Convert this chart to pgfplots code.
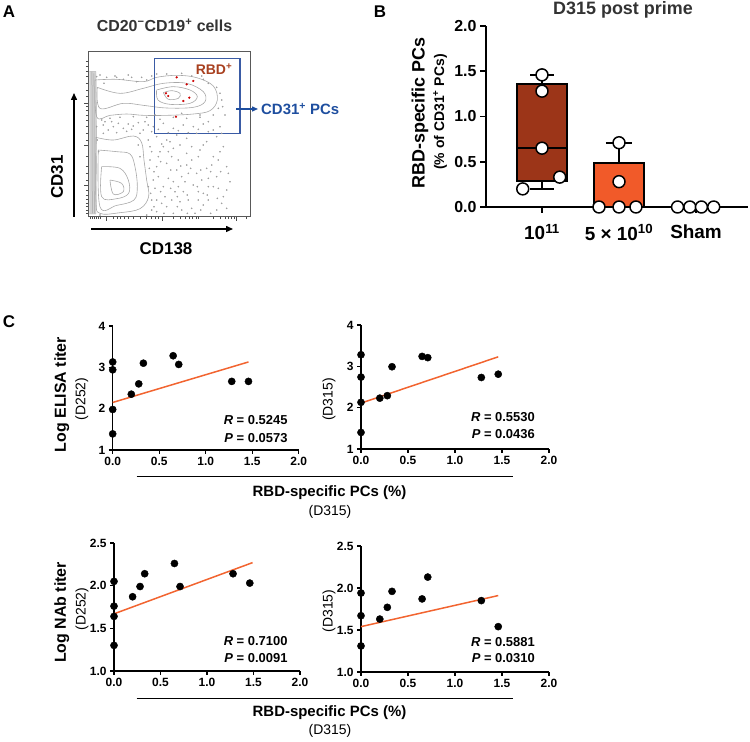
\documentclass[border=0pt]{standalone}
\usepackage{pgfplots}
\pgfplotsset{compat=1.18}
\usepgfplotslibrary{statistics}
\usetikzlibrary{arrows.meta}
\usepackage{fontspec}
\setmainfont{Liberation Sans}
\definecolor{boxA}{HTML}{9C3518}
\definecolor{boxB}{HTML}{F15A29}
\definecolor{regline}{HTML}{F26430}
\definecolor{gateblue}{HTML}{3A5BA5}
\definecolor{textblue}{HTML}{1E4E9F}
\definecolor{rbdred}{HTML}{A8401F}
\definecolor{titlegrey}{HTML}{333333}
\definecolor{flowgrey}{HTML}{A8A8A8}
\definecolor{dotgrey}{HTML}{A0A0A0}
\newcommand{\fs}[1]{\fontsize{#1}{#1}\selectfont}
\pgfplotsset{
  scat/.style={scale only axis, clip=false, axis lines*=left, anchor=south west,
    xmin=0, xmax=2, xtick={0,0.5,1,1.5,2}, tick align=outside, major tick length=4bp,
    axis line style={line width=1.3bp}, tick style={line width=1.3bp, black},
    ticklabel style={font=\fs{12}\bfseries},
    /pgf/number format/assume math mode=true,
    xticklabel style={/pgf/number format/fixed, /pgf/number format/fixed zerofill, /pgf/number format/precision=1}},
  dots/.style={only marks, mark=*, mark size=3.6, black},
  reg/.style={regline, line width=1.5bp, no marks},
}
\begin{document}
\begin{tikzpicture}
\useasboundingbox (0,0) rectangle (750bp,742bp);

% ---------------- Panel A ----------------
\begin{axis}[scale only axis, clip=false, at={(88.3bp,525.3bp)}, anchor=south west,
  width=161.7bp, height=165.7bp, xmin=265, xmax=750, ymin=-650, ymax=-153,
  axis line style={draw=gray!70!black, line width=0.8bp},
  xtick={318,487,710}, ytick={-555,-435,-310},
  minor xtick={272,278,284,290,296,302,340,352,362,372,385,400,420,440,455,465,475,520,540,555,568,578,588,596,640,660,675,685,695,702,740},
  minor ytick={-640,-630,-620,-610,-598,-585,-570,-540,-520,-500,-470,-420,-400,-380,-360,-345,-330,-320,-290,-270,-250,-230,-215,-200,-185},
  xticklabels={}, yticklabels={}, xtick pos=left, ytick pos=left,
  tick align=outside, major tick length=4bp, minor tick length=2.5bp,
  tick style={gray!60!black, line width=0.7bp}]
\addplot[fill=gray!35, draw=gray!60, line width=0.4bp] coordinates {(268,-215) (288,-215) (290,-400) (288,-642) (268,-642)};
\addplot[gray!70, line width=0.5bp] coordinates {(276,-215) (277,-640)};
\addplot[gray!70, line width=0.5bp] coordinates {(282,-220) (283,-640)};
% upper population contours
\addplot[flowgrey, line width=0.6bp, smooth, tension=0.6] coordinates {(285,-240) (350,-238) (430,-245) (470,-232) (530,-226) (590,-233) (640,-258) (652,-300) (630,-332) (580,-342) (500,-346) (430,-346) (380,-342) (330,-346) (290,-350) (285,-240)};
\addplot[flowgrey, line width=0.6bp, smooth, tension=0.6] coordinates {(292,-262) (360,-280) (430,-265) (490,-250) (560,-250) (610,-275) (615,-305) (580,-322) (500,-324) (430,-316) (370,-310) (300,-325) (292,-262)};
\addplot[flowgrey, line width=0.6bp, smooth, tension=0.6] coordinates {(470,-270) (520,-260) (570,-270) (592,-290) (570,-310) (510,-313) (474,-300) (470,-270)};
\addplot[flowgrey, line width=0.6bp, smooth, tension=0.6] coordinates {(490,-278) (515,-272) (540,-280) (535,-295) (505,-298) (490,-278)};
% lower population contours
\addplot[flowgrey, line width=0.6bp, smooth, tension=0.6] coordinates {(288,-412) (340,-420) (400,-408) (425,-428) (432,-480) (440,-540) (446,-590) (420,-626) (360,-638) (300,-640) (288,-600) (288,-412)};
\addplot[flowgrey, line width=0.6bp, smooth, tension=0.6] coordinates {(295,-450) (350,-455) (390,-462) (405,-500) (412,-560) (402,-600) (350,-616) (300,-620) (295,-450)};
\addplot[flowgrey, line width=0.6bp, smooth, tension=0.6] coordinates {(305,-500) (360,-505) (385,-540) (386,-580) (350,-596) (305,-590) (305,-500)};
\addplot[flowgrey, line width=0.6bp, smooth, tension=0.6] coordinates {(330,-540) (365,-550) (370,-575) (340,-582) (330,-540)};
% scattered events
\addplot[only marks, mark=*, mark size=0.6, color=dotgrey, mark options={draw=dotgrey, fill=dotgrey}] coordinates {
(300,-225) (320,-232) (345,-228) (370,-238) (395,-232) (410,-245) (440,-240) (455,-228) (500,-222) (545,-220) (575,-228) (610,-238) (625,-250) (650,-262) (660,-280) (665,-300) (655,-325) (640,-345) (600,-352) (560,-355) (520,-352) (480,-358) (440,-352) (400,-350) (360,-352) (330,-355) (305,-360)
(310,-375) (340,-380) (370,-385) (400,-378) (430,-390) (460,-380) (490,-370) (520,-385) (550,-375) (580,-380) (610,-372) (640,-390) (470,-410) (500,-420) (530,-405) (560,-415) (590,-400) (620,-425) (650,-410) (450,-440) (480,-455) (520,-445) (560,-460) (600,-450) (640,-470) (670,-440)
(450,-480) (470,-500) (500,-490) (530,-510) (560,-495) (590,-520) (620,-505) (650,-530) (680,-500) (460,-540) (490,-560) (520,-545) (550,-575) (580,-555) (610,-580) (640,-560) (670,-590) (690,-545) (470,-600) (500,-620) (540,-605) (575,-625) (610,-615) (650,-630) (455,-630) (520,-640)
(310,-400) (350,-398) (380,-394) (420,-400) (300,-645) (440,-645) (455,-395) (485,-432) (515,-470) (545,-530) (575,-480) (605,-540) (635,-495) (465,-565) (495,-590) (525,-575) (555,-545) (595,-600) (625,-600) (665,-610) (435,-365) (465,-345) (545,-340) (600,-345) (625,-365) (660,-380)
(325,-390) (395,-388) (445,-420) (475,-470) (505,-455) (535,-480) (565,-520) (595,-470) (625,-535) (655,-480) (685,-520) (445,-560) (475,-530) (505,-535) (535,-560) (565,-600) (595,-575) (625,-560) (655,-565) (485,-610) (515,-600) (545,-630) (585,-640) (455,-600) (470,-635)
(315,-365) (355,-370) (385,-372) (415,-368) (445,-375) (475,-388) (505,-398) (535,-392) (565,-398) (595,-388) (625,-395) (665,-400) (455,-455) (490,-440) (510,-425) (540,-435) (575,-440) (610,-435) (660,-455) (462,-515) (482,-485) (512,-510) (542,-498) (572,-505) (602,-510) (632,-515) (662,-515) (452,-580) (482,-575) (512,-565) (532,-590) (562,-585) (592,-560) (622,-585) (652,-595) (680,-570) (462,-620) (492,-640) (532,-620) (562,-640) (602,-630) (632,-640) (680,-625)
(290,-380) (292,-420) (296,-455) (415,-435) (420,-470) (448,-505) (290,-230) (312,-250) (335,-365) (350,-232) (385,-225) (425,-232) (470,-222) (605,-228) (668,-320) (675,-345)};
\addplot[only marks, mark=*, mark size=0.9, red!80!black] coordinates {(498,-280) (505,-288) (530,-232) (560,-253) (580,-243) (550,-303) (568,-293) (528,-350)};
\addplot[gateblue, line width=1.2bp] coordinates {(463,-175) (720,-175) (720,-400) (463,-400) (463,-175)};
\end{axis}
\draw[line width=1.4bp, -{Triangle[length=7bp,width=6bp]}] (74bp,525bp) -- (74bp,649bp);
\draw[line width=1.4bp, -{Triangle[length=7bp,width=6bp]}] (91bp,513bp) -- (233bp,513bp);
\draw[textblue, line width=1.3bp, -{Triangle[length=6bp,width=5bp]}] (236bp,633bp) -- (258bp,633bp);
\node[anchor=west, font=\fs{15}\bfseries, text=textblue, inner sep=0pt] at (261bp,633bp) {CD31\textsuperscript{+} PCs};
\node[font=\fs{14}\bfseries, text=rbdred] at (214bp,673bp) {RBD\textsuperscript{+}};
\node[rotate=90, font=\fs{17}\bfseries] at (57bp,565bp) {CD31};
\node[font=\fs{17}\bfseries] at (166bp,493bp) {CD138};
\node[font=\fs{16}\bfseries, text=titlegrey] at (164.5bp,717bp) {CD20\textsuperscript{−}CD19\textsuperscript{+} cells};
\node[font=\fs{17}\bfseries] at (9bp,730bp) {A};

% ---------------- Panel B ----------------
\begin{axis}[scale only axis, clip=false, at={(486bp,535bp)}, anchor=south west,
  width=262bp, height=181bp, xmin=0.273, xmax=3.675, ymin=0, ymax=2,
  axis lines*=left, xtick={1,2,3}, xticklabels={10\textsuperscript{11}, 5 × 10\textsuperscript{10}, Sham},
  ytick={0,0.5,1,1.5,2}, tick align=outside, major tick length=6bp,
  axis line style={line width=1.6bp}, tick style={line width=1.6bp, black},
  /pgf/number format/assume math mode=true,
  boxplot/draw direction=y,
  yticklabel style={font=\fs{16}\bfseries, /pgf/number format/fixed, /pgf/number format/fixed zerofill, /pgf/number format/precision=1},
  xticklabel style={font=\fs{19}\bfseries, yshift=-8bp}]
\addplot[draw=black, line width=2bp, fill=boxA, boxplot prepared={draw position=1, lower whisker=0.20, lower quartile=0.29, median=0.65, upper quartile=1.36, upper whisker=1.46, box extend=0.65, whisker extend=0.3}] coordinates {};
\addplot[draw=black, line width=2bp, fill=boxB, boxplot prepared={draw position=2, lower whisker=0, lower quartile=0, median=0, upper quartile=0.49, upper whisker=0.71, box extend=0.65, whisker extend=0.34}] coordinates {};
\addplot[only marks, mark=*, mark size=6, mark options={fill=white, draw=black, line width=1.5bp}] coordinates {
(1,1.46) (1,1.28) (1,0.65) (1.23,0.33) (0.75,0.20)
(2,0.71) (2,0.28) (1.74,0) (2,0) (2.22,0)
(2.76,0) (2.92,0) (3.07,0) (3.23,0)};
\end{axis}
\node[rotate=90, font=\fs{18}\bfseries] at (420bp,629bp) {RBD-specific PCs};
\node[rotate=90, font=\fs{14}\bfseries] at (440bp,630bp) {(\% of CD31\textsuperscript{+} PCs)};
\node[font=\fs{18}\bfseries, text=titlegrey] at (623bp,732bp) {D315 post prime};
\node[font=\fs{17}\bfseries] at (380bp,730bp) {B};

% ---------------- Panel C ----------------
\node[font=\fs{17}\bfseries] at (9bp,420bp) {C};
\begin{axis}[scat, at={(112.7bp,292bp)}, width=186bp, height=124bp, ymin=1, ymax=4, ytick={1,2,3,4}]
\addplot[dots] coordinates {(0,3.13) (0,2.94) (0,1.98) (0,1.39) (0.20,2.35) (0.28,2.60) (0.33,3.10) (0.65,3.28) (0.71,3.07) (1.28,2.66) (1.46,2.66)};
\addplot[reg] coordinates {(0,2.15) (1.46,3.13)};
\end{axis}
\begin{axis}[scat, at={(361bp,293bp)}, width=188bp, height=124bp, ymin=1, ymax=4, ytick={1,2,3,4}]
\addplot[dots] coordinates {(0,3.28) (0,2.74) (0,2.13) (0,1.40) (0.20,2.23) (0.28,2.29) (0.33,2.99) (0.65,3.24) (0.71,3.21) (1.28,2.73) (1.46,2.81)};
\addplot[reg] coordinates {(0,2.11) (1.46,3.23)};
\end{axis}
\begin{axis}[scat, at={(114bp,71bp)}, width=186bp, height=128bp, ymin=1, ymax=2.5, ytick={1,1.5,2,2.5},
  yticklabel style={/pgf/number format/fixed, /pgf/number format/fixed zerofill, /pgf/number format/precision=1}]
\addplot[dots] coordinates {(0,2.05) (0,1.76) (0,1.64) (0,1.30) (0.20,1.87) (0.28,1.99) (0.33,2.14) (0.65,2.26) (0.71,1.99) (1.28,2.14) (1.46,2.03)};
\addplot[reg] coordinates {(0,1.67) (1.49,2.27)};
\end{axis}
\begin{axis}[scat, at={(361bp,70bp)}, width=188bp, height=126bp, ymin=1, ymax=2.5, ytick={1,1.5,2,2.5},
  yticklabel style={/pgf/number format/fixed, /pgf/number format/fixed zerofill, /pgf/number format/precision=1}]
\addplot[dots] coordinates {(0,1.94) (0,1.67) (0,1.31) (0.20,1.63) (0.28,1.77) (0.33,1.96) (0.65,1.87) (0.71,2.13) (1.28,1.85) (1.46,1.54)};
\addplot[reg] coordinates {(0,1.54) (1.46,1.91)};
\end{axis}
% y labels
\node[rotate=90, font=\fs{16}\bfseries] at (61.7bp,347.3bp) {Log ELISA titer};
\node[rotate=90, font=\fs{14}] at (81.7bp,343bp) {(D252)};
\node[rotate=90, font=\fs{14}] at (329bp,342.5bp) {(D315)};
\node[rotate=90, font=\fs{16}\bfseries] at (61.7bp,129.5bp) {Log NAb titer};
\node[rotate=90, font=\fs{14}] at (82bp,133bp) {(D252)};
\node[rotate=90, font=\fs{14}] at (329bp,131bp) {(D315)};
% shared x labels
\draw[line width=1.5bp] (136.7bp,265.3bp) -- (512.7bp,265.3bp);
\node[font=\fs{15}\bfseries] at (329.5bp,249bp) {RBD-specific PCs (\%)};
\node[font=\fs{14}] at (330bp,230bp) {(D315)};
\draw[line width=1.5bp] (136.7bp,43.7bp) -- (512.7bp,43.7bp);
\node[font=\fs{15}\bfseries] at (329.5bp,29.3bp) {RBD-specific PCs (\%)};
\node[font=\fs{14}] at (330bp,11bp) {(D315)};
% statistics
\node[anchor=east, font=\fs{13}\bfseries] at (291bp,322bp) {\textit{R} = 0.5245};
\node[anchor=east, font=\fs{13}\bfseries] at (291bp,304.3bp) {\textit{P} = 0.0573};
\node[anchor=east, font=\fs{13}\bfseries] at (538.3bp,324.7bp) {\textit{R} = 0.5530};
\node[anchor=east, font=\fs{13}\bfseries] at (538.3bp,308bp) {\textit{P} = 0.0436};
\node[anchor=east, font=\fs{13}\bfseries] at (291bp,101.3bp) {\textit{R} = 0.7100};
\node[anchor=east, font=\fs{13}\bfseries] at (291bp,83.7bp) {\textit{P} = 0.0091};
\node[anchor=east, font=\fs{13}\bfseries] at (538.3bp,100.3bp) {\textit{R} = 0.5881};
\node[anchor=east, font=\fs{13}\bfseries] at (538.3bp,83.7bp) {\textit{P} = 0.0310};
\end{tikzpicture}
\end{document}
